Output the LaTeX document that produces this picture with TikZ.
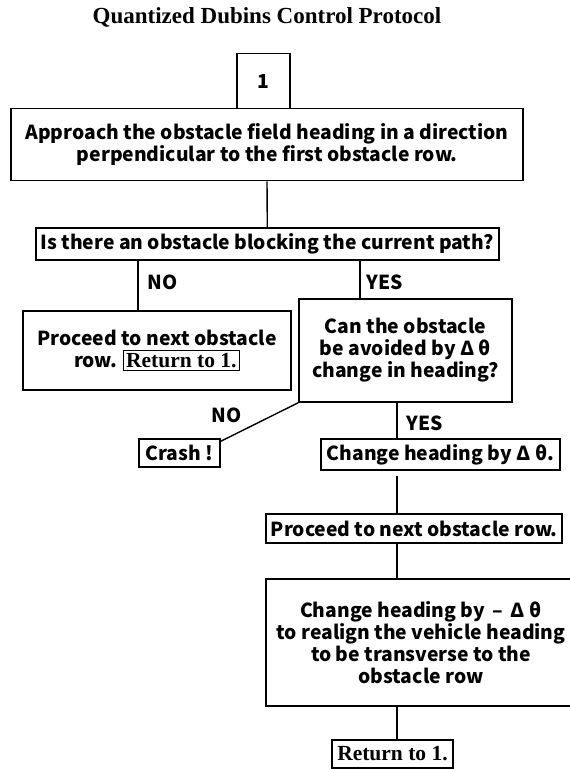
\documentclass[tikz,border=0pt]{standalone}
\usepackage{fontspec}
\setmainfont{Liberation Serif}
\newfontfamily\gothic{Noto Sans CJK KR}
\usetikzlibrary{positioning}
\newcommand{\bodysize}{\fontsize{19.3}{22}\selectfont}
\newcommand{\retsize}{\fontsize{21.5}{22}\selectfont}
\tikzset{%
	stage/.style  = {draw, rectangle, line width=1.5pt, inner sep=0pt, align=center, font=\gothic\bfseries\bodysize},
	retbox/.style = {draw, rectangle, line width=1.5pt, inner sep=0pt, font=\bfseries\retsize},
	answer/.style = {font=\gothic\bfseries\bodysize},
	link/.style   = {line width=1.4pt},
}

\begin{document}
\begin{tikzpicture}[x=1pt,y=-1pt]
	\useasboundingbox (0,0) rectangle (570,769);
	\node[font=\bfseries\fontsize{23}{24}\selectfont] (title) at (267,17) {Quantized Dubins Control Protocol};
	
	\node[stage, minimum width=53pt, minimum height=55pt] (one) at (263.5,81) {1};
	\node[stage, minimum width=512pt, minimum height=72pt] (appr) at (267,144.5) {Approach the obstacle field heading in a direction\\perpendicular to the first obstacle row.};
	\node[stage, minimum width=463pt, minimum height=32pt] (blk) at (267.3,244) {Is there an obstacle blocking the current path?};
	\node[stage, minimum width=268pt, minimum height=79pt] (nxtA) at (157,350.5) {Proceed to next obstacle\\row. {\setlength{\fboxsep}{2pt}\setlength{\fboxrule}{1.3pt}\fbox{\rmfamily\bfseries\retsize Return to 1.}}};
	\node[stage, minimum width=213pt, minimum height=103pt] (canq) at (405.5,350.5) {Can the obstacle\\be avoided by Δ θ\\change in heading?};
	\node[stage, minimum width=81pt, minimum height=28pt] (crash) at (179.5,453) {Crash !};
	\node[stage, minimum width=239pt, minimum height=31pt] (turn) at (440.5,454.5) {Change heading by Δ θ.};
	\node[stage, minimum width=296pt, minimum height=29pt] (nxtB) at (414,528.5) {Proceed to next obstacle row.};
	\node[stage, minimum width=310pt, minimum height=127pt] (realign) at (421,642.5) {Change heading by \,–\, Δ θ\\to realign the vehicle heading\\to be transverse to the\\obstacle row};
	\node[retbox, minimum width=121pt, minimum height=28pt] (retB) at (392.5,754) {Return to 1.};
	
	\node[answer] (noA) at (162.5,282) {NO};
	\node[answer] (yesA) at (385,282) {YES};
	\node[answer] (noB) at (226.5,415) {NO};
	\node[answer] (yesB) at (425,423) {YES};
	
	\coordinate (noX) at (138,0);
	\coordinate (yesX) at (360,0);
	\coordinate (colA) at (397,0);
	\draw[link] (appr.south) -- (blk.north);
	\draw[link] (blk.south -| noX) -- (nxtA.north -| noX);
	\draw[link] (blk.south -| yesX) -- (canq.north -| yesX);
	\draw[link] (canq.south west) -- ([yshift=-3pt]crash.north east);
	\draw[link] (canq.south -| colA) -- (turn.north -| colA);
	\draw[link, shorten <=5pt] (turn.south -| colA) -- (nxtB.north -| colA);
	\draw[link] (nxtB.south -| colA) -- (realign.north -| colA);
	\draw[link] (realign.south -| colA) -- (retB.north -| colA);
\end{tikzpicture}
\end{document}
